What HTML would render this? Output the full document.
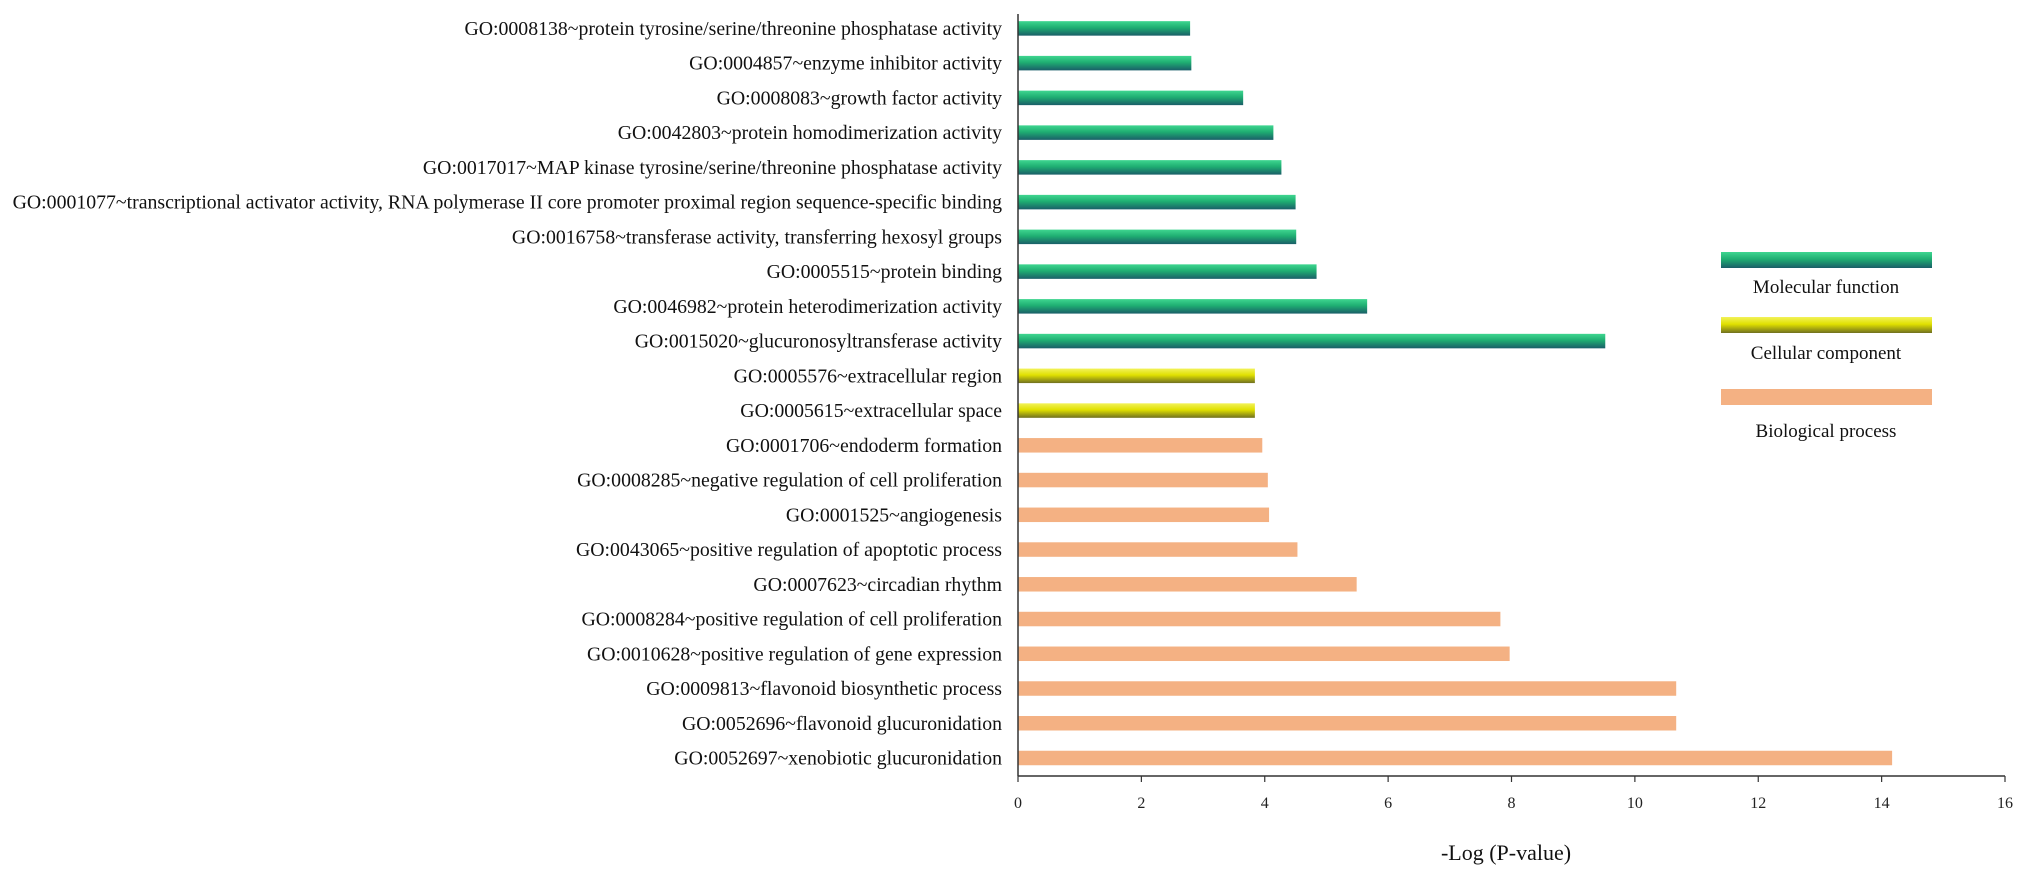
<!DOCTYPE html>
<html><head><meta charset="utf-8"><style>
html,body{margin:0;padding:0;background:#fff;}
svg{display:block;font-family:"Liberation Serif",serif;}
</style></head><body>
<svg id="chart" width="2031" height="875">
<defs>
<linearGradient id="gGreen" x1="0" y1="0" x2="0" y2="1"><stop offset="0" stop-color="#3fd690"/><stop offset="0.45" stop-color="#1fae72"/><stop offset="1" stop-color="#1a5e68"/></linearGradient>
<linearGradient id="gYellow" x1="0" y1="0" x2="0" y2="1"><stop offset="0" stop-color="#f2f25a"/><stop offset="0.45" stop-color="#e0e000"/><stop offset="1" stop-color="#707020"/></linearGradient>
</defs>
</svg>
<script>
const categories=["GO:0008138~protein tyrosine/serine/threonine phosphatase activity","GO:0004857~enzyme inhibitor activity","GO:0008083~growth factor activity","GO:0042803~protein homodimerization activity","GO:0017017~MAP kinase tyrosine/serine/threonine phosphatase activity","GO:0001077~transcriptional activator activity, RNA polymerase II core promoter proximal region sequence-specific binding","GO:0016758~transferase activity, transferring hexosyl groups","GO:0005515~protein binding","GO:0046982~protein heterodimerization activity","GO:0015020~glucuronosyltransferase activity","GO:0005576~extracellular region","GO:0005615~extracellular space","GO:0001706~endoderm formation","GO:0008285~negative regulation of cell proliferation","GO:0001525~angiogenesis","GO:0043065~positive regulation of apoptotic process","GO:0007623~circadian rhythm","GO:0008284~positive regulation of cell proliferation","GO:0010628~positive regulation of gene expression","GO:0009813~flavonoid biosynthetic process","GO:0052696~flavonoid glucuronidation","GO:0052697~xenobiotic glucuronidation"];
const values=[2.79,2.81,3.65,4.14,4.27,4.50,4.51,4.84,5.66,9.52,3.84,3.84,3.96,4.05,4.07,4.53,5.49,7.82,7.97,10.67,10.67,14.17];
const groups=["MF","MF","MF","MF","MF","MF","MF","MF","MF","MF","CC","CC","BP","BP","BP","BP","BP","BP","BP","BP","BP","BP"];
const ticks=[0,2,4,6,8,10,12,14,16];
const legendLabels=["Molecular function","Cellular component","Biological process"];
const legendGroups=["MF","CC","BP"];

const NS="http://www.w3.org/2000/svg";
const svg=document.getElementById('chart');
const fills={MF:"url(#gGreen)",CC:"url(#gYellow)",BP:"#f4b183"};
const x0=1018,x1=2005,xmax=16,yTop=28.4,yBot=758,axisY=776;
function xs(v){return x0+(x1-x0)*v/xmax;}
function ys(i){return yTop+(yBot-yTop)*i/(categories.length-1);}
function mk(tag,attrs){const e=document.createElementNS(NS,tag);for(const k in attrs)e.setAttribute(k,attrs[k]);svg.appendChild(e);return e;}
const bh=14.5;
categories.forEach((c,i)=>{
  const y=ys(i);
  const r=mk('rect',{x:x0,y:y-bh/2,width:xs(values[i])-x0,height:bh,fill:fills[groups[i]]});
  
  
  const t=mk('text',{x:1002,y:y+6.5,'text-anchor':'end','font-size':'19.8',fill:'#111'});
  t.textContent=c;
  
  
});
const ya=mk('line',{x1:x0,y1:14,x2:x0,y2:axisY,stroke:'#333','stroke-width':1.5});


const xa=mk('line',{x1:x0,y1:axisY,x2:x1,y2:axisY,stroke:'#333','stroke-width':1.5});


ticks.forEach(v=>{
  const tk=mk('line',{x1:xs(v),y1:axisY,x2:xs(v),y2:axisY+6,stroke:'#333','stroke-width':1.2});
  
  
  const tl=mk('text',{x:xs(v),y:808,'text-anchor':'middle','font-size':'16',fill:'#222'});
  tl.textContent=String(v);
  
  
});
const at=mk('text',{x:1506,y:860,'text-anchor':'middle','font-size':'22',fill:'#111'});
at.textContent="-Log (P-value)";


const ly=[260,325,397],lty=[293,359,437];
legendLabels.forEach((l,i)=>{
  const r=mk('rect',{x:1721,y:ly[i]-8,width:211,height:16,fill:fills[legendGroups[i]]});
  
  
  const t=mk('text',{x:1826,y:lty[i],'text-anchor':'middle','font-size':'19',fill:'#111'});
  t.textContent=l;
  
  
});
</script>
</body></html>
